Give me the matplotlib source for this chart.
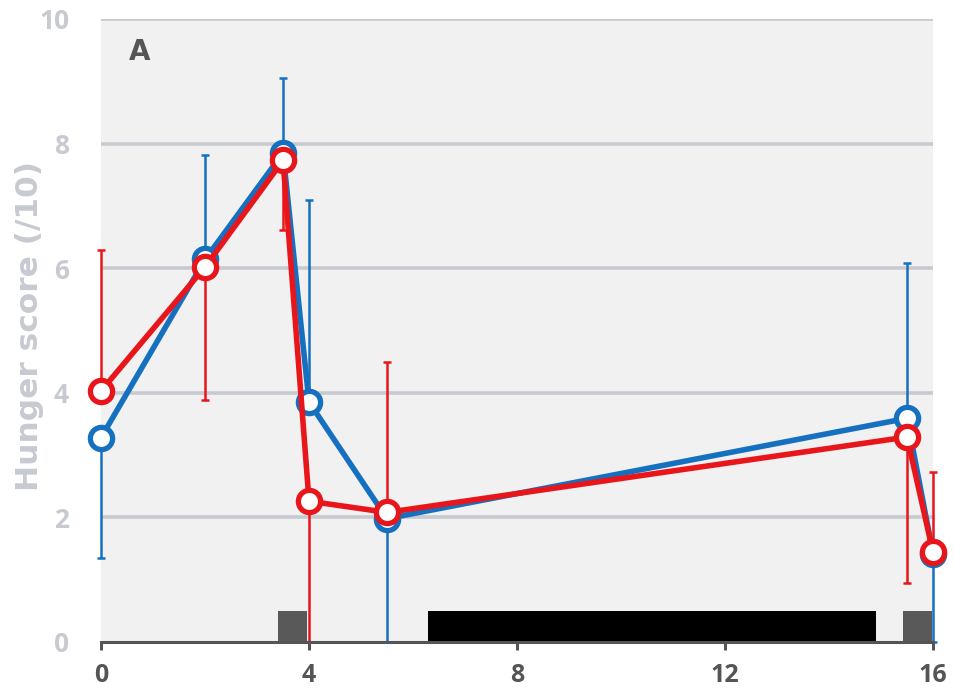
#!/usr/bin/env python3
"""Hunger score over time, two groups, with one-sided error bars."""

import matplotlib
matplotlib.use("Agg")
import matplotlib.pyplot as plt

# time points (h)
hours = [0, 2, 3.5, 4, 5.5, 15.5, 16]

blue_mean = [3.28, 6.14, 7.85, 3.85, 1.98, 3.59, 1.42]
blue_err_lo = [1.93, 0, 0, 0, 1.98, 0, 1.42]
blue_err_hi = [0, 1.68, 1.2, 3.25, 0, 2.5, 0]

red_mean = [4.03, 6.02, 7.73, 2.26, 2.08, 3.29, 1.44]
red_err_lo = [0, 2.14, 1.11, 2.26, 0, 2.34, 0]
red_err_hi = [2.26, 0, 0, 0, 2.42, 0, 1.29]

# activity bars along the bottom
bar_start = [3.4, 6.29, 15.42]
bar_width = [0.57, 8.61, 0.56]
bar_height = [0.5, 0.5, 0.5]
bar_color = ["#595959", "#000000", "#595959"]

x_ticks = [0, 4, 8, 12, 16]
y_ticks = [0, 2, 4, 6, 8, 10]

plt.rcParams["font.family"] = ["Open Sans", "DejaVu Sans"]

fig = plt.figure(figsize=(9.55, 6.93), dpi=100)
ax = fig.add_axes([0.1058, 0.0736, 0.8712, 0.899])
ax.set_facecolor("#f1f1f1")

ax.set_xlim(0, 16)
ax.set_ylim(0, 10)

for yv in y_ticks[1:]:
    ax.axhline(yv, color="#c8cad1", lw=2.6, zorder=1)

ax.bar(bar_start, bar_height, width=bar_width, align="edge",
       color=bar_color, zorder=2)

for mean, lo, hi, col in [(blue_mean, blue_err_lo, blue_err_hi, "#1570c0"),
                          (red_mean, red_err_lo, red_err_hi, "#e8161b")]:
    ax.errorbar(hours, mean, yerr=[lo, hi], fmt="none", ecolor=col,
                elinewidth=1.8, capsize=3, capthick=1.8, zorder=3,
                clip_on=False)
    ax.plot(hours, mean, color=col, lw=4, marker="o", ms=16,
            mfc="white", mec=col, mew=3.8, zorder=4, clip_on=False)

for side in ["top", "right", "left"]:
    ax.spines[side].set_visible(False)
ax.spines["bottom"].set_color("#555555")
ax.spines["bottom"].set_linewidth(2.2)
ax.spines["bottom"].set_zorder(5)

ax.set_xticks(x_ticks)
ax.set_yticks(y_ticks)
ax.tick_params(axis="x", length=6, width=2.2, color="#555555",
               labelcolor="#555555", labelsize=18, pad=9)
ax.tick_params(axis="y", length=0, labelcolor="#c8cad1", labelsize=19, pad=23)
for lab in ax.get_xticklabels() + ax.get_yticklabels():
    lab.set_fontweight("bold")

fig.text(30 / 955, 0.53, "Hunger score (/10)", rotation=90,
         ha="center", va="center", fontsize=22.5, fontweight="bold",
         color="#c8cad1", family="DejaVu Sans")

ax.text(0.034, 0.947, "A", transform=ax.transAxes, fontsize=20,
        fontweight="bold", color="#555555", va="center", ha="left",
        family="DejaVu Sans")

fig.savefig("out.png", dpi=100)
